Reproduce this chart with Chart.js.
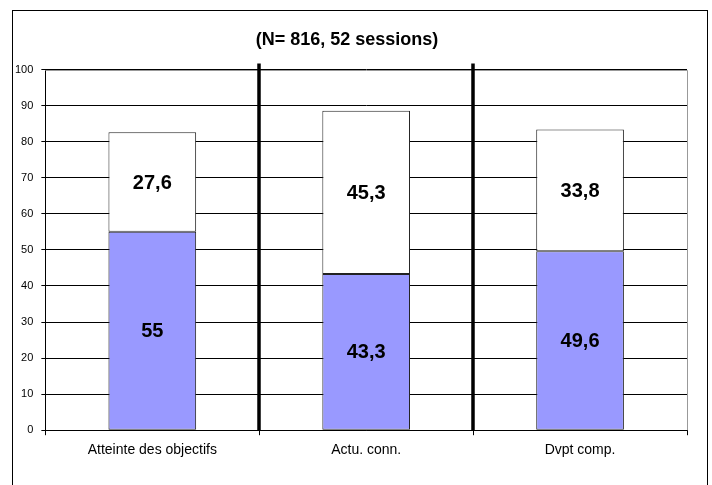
<!DOCTYPE html>
<html>
<head>
<meta charset="utf-8">
<script src="https://cdn.jsdelivr.net/npm/chart.js@4.4.1/dist/chart.umd.min.js"></script>
<style>
  html, body { margin: 0; padding: 0; background: #fff; }
  #wrap { width: 712px; height: 485px; position: relative; }
</style>
</head>
<body>
<div id="wrap"><canvas id="chart"></canvas></div>
<script>
const categories = ['Atteinte des objectifs', 'Actu. conn.', 'Dvpt comp.'];
const lowerValues = [55, 43.3, 49.6];
const upperValues = [27.6, 45.3, 33.8];
const yTicks = [0, 10, 20, 30, 40, 50, 60, 70, 80, 90, 100];

const FONT = 'Arial, "Liberation Sans", sans-serif';

// cadre extérieur, bord droit/haut de la zone de tracé, séparateurs épais
const decorations = {
  id: 'decorations',
  beforeDraw(chart) {
    const ctx = chart.ctx;
    ctx.save();
    ctx.fillStyle = '#fff';
    ctx.fillRect(0, 0, chart.width, chart.height);
    ctx.strokeStyle = '#000';
    ctx.lineWidth = 1;
    ctx.strokeRect(12.5, 10.5, 695, 500);
    ctx.restore();
  },
  afterDatasetsDraw(chart) {
    const ctx = chart.ctx;
    const a = chart.chartArea;
    const x = chart.scales.x;
    ctx.save();
    ctx.strokeStyle = '#999';
    ctx.lineWidth = 1;
    ctx.beginPath();
    ctx.moveTo(a.left, Math.round(a.top) + 0.5);
    ctx.lineTo(Math.round(a.right) + 0.5, Math.round(a.top) + 0.5);
    ctx.lineTo(Math.round(a.right) + 0.5, a.bottom);
    ctx.stroke();

    ctx.strokeStyle = '#000';
    ctx.lineWidth = 3.5;
    for (let i = 0; i < categories.length - 1; i++) {
      const bx = Math.round((x.getPixelForValue(i) + x.getPixelForValue(i + 1)) / 2);
      ctx.beginPath();
      ctx.moveTo(bx, a.top - 6);
      ctx.lineTo(bx, a.bottom);
      ctx.stroke();
    }

    // étiquettes de valeurs
    ctx.fillStyle = '#000';
    ctx.font = 'bold 20px ' + FONT;
    ctx.textAlign = 'center';
    ctx.textBaseline = 'middle';
    chart.data.datasets.forEach((ds, di) => {
      chart.getDatasetMeta(di).data.forEach((bar, i) => {
        const p = bar.getProps(['x', 'y', 'base'], true);
        ctx.fillText(String(ds.data[i]).replace('.', ','), p.x, (p.y + p.base) / 2 + 1);
      });
    });
    ctx.restore();
  }
};

new Chart(document.getElementById('chart'), {
  type: 'bar',
  data: {
    labels: categories,
    datasets: [
      {
        label: 'bas',
        data: lowerValues,
        backgroundColor: '#9999ff',
        borderColor: '#222',
        borderWidth: 1,
        borderSkipped: false,
        barPercentage: 0.41,
        categoryPercentage: 1
      },
      {
        label: 'haut',
        data: upperValues,
        backgroundColor: '#fff',
        borderColor: '#222',
        borderWidth: 1,
        borderSkipped: false,
        barPercentage: 0.41,
        categoryPercentage: 1
      }
    ]
  },
  options: {
    responsive: true,
    maintainAspectRatio: false,
    animation: false,
    layout: { padding: { left: 7, right: 25, top: 0, bottom: 19 } },
    plugins: {
      legend: { display: false },
      tooltip: { enabled: false },
      title: {
        display: true,
        text: '(N= 816, 52 sessions)',
        color: '#000',
        font: { family: FONT, size: 18, weight: 'bold' },
        padding: { top: 29, bottom: 19 }
      }
    },
    scales: {
      x: {
        stacked: true,
        offset: true,
        grid: { drawOnChartArea: false, offset: true, color: '#000', tickLength: 5 },
        border: { color: '#000' },
        ticks: { color: '#000', font: { family: FONT, size: 14 }, padding: 7, maxRotation: 0 }
      },
      y: {
        stacked: true,
        min: 0,
        max: 100,
        afterBuildTicks(scale) { scale.ticks = yTicks.map(v => ({ value: v })); },
        grid: { color: '#000', tickLength: 4 },
        border: { color: '#000' },
        ticks: { color: '#000', font: { family: FONT, size: 11 }, padding: 8 }
      }
    }
  },
  plugins: [decorations]
});
</script>
</body>
</html>
